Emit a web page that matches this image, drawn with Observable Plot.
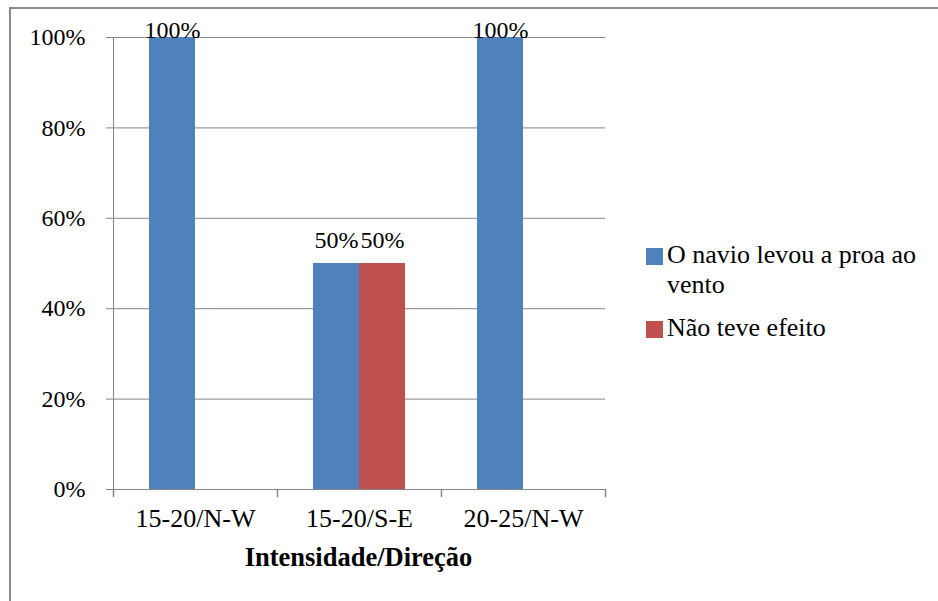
<!DOCTYPE html>
<html>
<head>
<meta charset="utf-8">
<script src="https://cdn.jsdelivr.net/npm/d3@7"></script>
<script src="https://cdn.jsdelivr.net/npm/@observablehq/plot@0.6"></script>
<style>
  html, body { margin: 0; padding: 0; background: #fff; }
  #wrap { position: relative; width: 938px; height: 601px; overflow: hidden; font-family: "Liberation Serif", Tinos, "Times New Roman", "DejaVu Serif", serif; }
  #chart { position: absolute; left: 0; top: 0; }
  #border { position: absolute; left: 9px; top: 7px; width: 1000px; height: 700px; border-left: 2px solid #8a8a8a; border-top: 2px solid #8a8a8a; pointer-events: none; }
  #xtitle { position: absolute; left: 112px; width: 493px; top: 542px; text-align: center; font-weight: bold; font-size: 26.5px; line-height: 30px; color: #000; }
  #legend { position: absolute; left: 646px; top: 240px; font-size: 26px; color: #000; }
  .item { position: relative; padding-left: 21px; line-height: 30px; }
  .item + .item { margin-top: 13px; }
  .sw { position: absolute; left: 0; top: 8px; width: 17px; height: 17px; }
</style>
</head>
<body>
<div id="wrap">
  <div id="chart"></div>
  <div id="border"></div>
  <div id="xtitle"></div>
  <div id="legend"></div>
</div>
<script>
const categories = ["15-20/N-W", "15-20/S-E", "20-25/N-W"];
const seriesNames = ["O navio levou a proa ao vento", "Não teve efeito"];
const seriesColors = ["#4F81BD", "#C0504D"];
const levouProa = [100, 50, 100];
const naoTeveEfeito = [null, 50, null];
const yTicks = [0, 20, 40, 60, 80, 100];
const xTitle = "Intensidade/Direção";

const seriesValues = [levouProa, naoTeveEfeito];
const data = [];
categories.forEach((c, i) => {
  seriesNames.forEach((s, j) => {
    const v = seriesValues[j][i];
    if (v != null) data.push({cat: c, series: s, value: v});
  });
});
const pct = d => d + "%";
const gray = "#868686";
const serif = "'Liberation Serif', Tinos, 'Times New Roman', 'DejaVu Serif', serif";
const tickShape = {draw(context, length) { context.moveTo(0, 0); context.lineTo(0, -length); }};
const lastCat = categories[categories.length - 1];

const chart = Plot.plot({
  width: 938,
  height: 601,
  marginLeft: 112,
  marginRight: 333,
  marginTop: 37,
  marginBottom: 112,
  style: {fontFamily: serif, fontSize: "24px", color: "#000", background: "transparent", overflow: "visible"},
  fx: {domain: categories, paddingInner: 0, paddingOuter: 0, label: null},
  x: {domain: seriesNames, paddingInner: 0, paddingOuter: 0.745, axis: null},
  y: {domain: [0, 100], label: null},
  color: {domain: seriesNames, range: seriesColors},
  marks: [
    Plot.gridY(yTicks, {stroke: gray, strokeOpacity: 1, strokeWidth: 1}),
    Plot.axisY(yTicks, {tickSize: 7, tickPadding: 21, tickFormat: pct, stroke: gray, fill: "#000", label: null, fontSize: 24}),
    Plot.frame({anchor: "left", stroke: gray, facetAnchor: "left"}),
    Plot.ruleY([0], {stroke: gray}),
    Plot.barY(data, {fx: "cat", x: "series", y: "value", fill: "series"}),
    Plot.text(data.filter(d => d.value < 100), {fx: "cat", x: "series", y: "value", text: d => pct(d.value), lineAnchor: "bottom", dy: -16, fill: "#000", fontSize: 24}),
    Plot.text(data.filter(d => d.value >= 100), {fx: "cat", x: "series", y: "value", text: d => pct(d.value), lineAnchor: "bottom", dy: 0, fill: "#000", fontSize: 24}),
    Plot.vector(categories, {fx: d => d, frameAnchor: "bottom-left", length: 7, rotate: 180, anchor: "start", shape: tickShape, stroke: gray}),
    Plot.vector([lastCat], {fx: d => d, frameAnchor: "bottom-right", length: 7, rotate: 180, anchor: "start", shape: tickShape, stroke: gray}),
    Plot.axisFx({anchor: "bottom", tickSize: 0, tickPadding: 19, label: null, fill: "#000", fontSize: 26})
  ]
});
document.getElementById("chart").appendChild(chart);
document.getElementById("xtitle").textContent = xTitle;

const legend = document.getElementById("legend");
seriesNames.forEach((s, j) => {
  const item = document.createElement("div");
  item.className = "item";
  item.style.width = "275px";
  const sw = document.createElement("span");
  sw.className = "sw";
  sw.style.background = seriesColors[j];
  item.appendChild(sw);
  item.appendChild(document.createTextNode(s));
  legend.appendChild(item);
});
</script>
</body>
</html>
